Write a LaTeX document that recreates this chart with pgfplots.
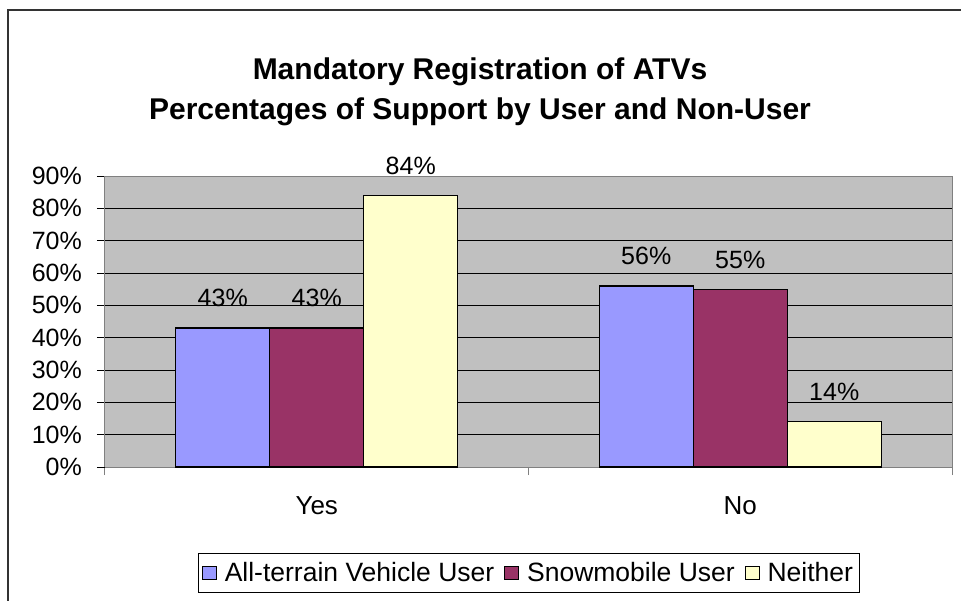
\documentclass[border=0pt]{standalone}
\usepackage{fontspec}
\setmainfont{Liberation Sans}
\usepackage{pgfplots}
\pgfplotsset{compat=1.18}
\definecolor{atv}{HTML}{9999FF}
\definecolor{snow}{HTML}{993366}
\definecolor{neither}{HTML}{FFFFCC}
\definecolor{plotbg}{HTML}{C0C0C0}
\definecolor{axgray}{HTML}{808080}
\newcommand{\lbl}{\fontsize{25}{30}\selectfont}

\begin{document}
\begin{tikzpicture}
\begin{axis}[
    at={(0pt,0pt)}, anchor=south west,
    scale only axis, width=847pt, height=291pt,
    xmin=-0.5, xmax=1.5, ymin=0, ymax=90,
    ybar=0pt, bar width=94pt,
    clip=false,
    /pgf/number format/assume math mode=true,
    axis background/.style={fill=plotbg},
    axis line style={axgray, line width=1pt},
    ymajorgrids, grid style={black, line width=0.9pt},
    ytick={0,10,...,90},
    yticklabel={\pgfmathprintnumber{\tick}\%},
    yticklabel style={font=\lbl, anchor=east, inner sep=0pt, xshift=-15pt},
    xtick={0,1}, xticklabels={Yes,No},
    xticklabel style={font=\fontsize{26}{30}\selectfont, yshift=-18pt},
    major x tick style={draw=none},
    minor xtick={-0.5,0.5,1.5},
    minor x tick style={draw=axgray, line width=1pt},
    minor tick length=8pt,
    major tick length=8pt,
    y tick style={black, line width=0.9pt},
    tick align=outside,
    axis x line*=bottom, axis y line*=left,
    nodes near coords={\pgfmathprintnumber{\pgfplotspointmeta}\%},
    every node near coord/.append style={font=\lbl, anchor=base, yshift=21pt, black},
    title={Mandatory Registration of ATVs\\Percentages of Support by User and Non-User},
    title style={font=\fontsize{30}{40}\selectfont\bfseries, align=center,
        at={(0.5,1)}, anchor=center, xshift=-48.5pt, yshift=78pt},
    legend style={at={(0.5,0)}, anchor=north, yshift=-86pt, draw=black,
        line width=0.8pt, font=\fontsize{26.5}{30}\selectfont, legend columns=3,
        inner xsep=4pt, inner ysep=7pt,
        /tikz/every odd column/.append style={column sep=6pt},
        /tikz/every even column/.append style={column sep=8pt}},
    legend image code/.code={\draw[#1, draw=black, line width=0.8pt] (0pt,-7pt) rectangle (14pt,6pt);},
]
\addplot[fill=atv, draw=black, line width=1.2pt] coordinates {(0,43) (1,56)};
\addplot[fill=snow, draw=black, line width=1.2pt] coordinates {(0,43) (1,55)};
\addplot[fill=neither, draw=black, line width=1.2pt] coordinates {(0,84) (1,14)};
\legend{All-terrain Vehicle User, Snowmobile User, Neither}
\draw[axgray, line width=1pt] (rel axis cs:0,1) -- (rel axis cs:1,1) -- (rel axis cs:1,0);
\end{axis}
\draw[black!80, line width=1.5pt] (-97pt,-150pt) -- (-97pt,457pt) -- (880pt,457pt);
\pgfresetboundingbox
\useasboundingbox (-105pt,-133pt) rectangle (856pt,467pt);
\end{tikzpicture}
\end{document}
